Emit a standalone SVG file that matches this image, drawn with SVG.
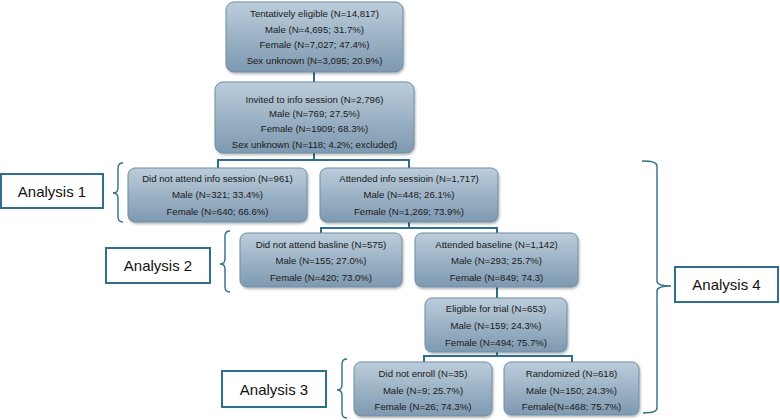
<svg xmlns="http://www.w3.org/2000/svg" width="780" height="420" viewBox="0 0 780 420">
<defs>
<linearGradient id="g" x1="0" y1="0" x2="0" y2="1">
<stop offset="0" stop-color="#bccddb"/>
<stop offset="1" stop-color="#7d99b0"/>
</linearGradient>
<filter id="sh" x="-5%" y="-5%" width="110%" height="120%">
<feDropShadow dx="1" dy="1.5" stdDeviation="1" flood-color="#000" flood-opacity="0.3"/>
</filter>
</defs>
<style>
.box{fill:url(#g);stroke:#6f8ea6;stroke-width:1;filter:url(#sh)}
.t{font-family:"Liberation Sans",Arial,sans-serif;font-size:9.6px;fill:#1a1a1a;text-anchor:middle}
.ab{fill:#fff;stroke:#2f6e8c;stroke-width:2}
.at{font-family:"Liberation Sans",Arial,sans-serif;font-size:15px;fill:#111;text-anchor:middle}
.c{fill:none;stroke:#2f6e8c;stroke-width:2}
.br{fill:none;stroke:#2f6e8c;stroke-width:1.4}
</style>
<g id="connectors">
<path class="c" d="M314,72 V82"/>
<path class="c" d="M314,153 V160 M218,160 H409 M218,159 V168 M409,159 V168"/>
<path class="c" d="M409,222 V228 M321,228 H497 M321,227 V233 M497,227 V233"/>
<path class="c" d="M497,287 V298"/>
<path class="c" d="M497,352 V356 M424,356 H572 M424,355 V362 M572,355 V362"/>
</g>
<g id="brackets">
<path class="br" d="M123,163 Q118,163 118,168 V188 Q118,193 113,193 Q118,193 118,198 V217 Q118,222 123,222"/>
<path class="br" d="M230,231 Q225,231 225,236 V259 Q225,264 220,264 Q225,264 225,269 V287 Q225,292 230,292"/>
<path class="br" d="M347,359 Q342,359 342,364 V385 Q342,390 337,390 Q342,390 342,395 V413 Q342,418 347,418"/>
<path class="br" d="M642,161 Q657,161 657,166 V281 Q657,286 671,286 Q657,286 657,291 V408 Q657,413 643,413"/>
</g>
<g id="n1">
<rect class="box" x="226" y="2" width="177" height="70" rx="8"/>
<text class="t" x="314.5" y="17">Tentatively eligible (N=14,817)</text>
<text class="t" x="314.5" y="33">Male (N=4,695; 31.7%)</text>
<text class="t" x="314.5" y="48">Female (N=7,027; 47.4%)</text>
<text class="t" x="314.5" y="64">Sex unknown (N=3,095; 20.9%)</text>
</g>
<g id="n2">
<rect class="box" x="215" y="82" width="199" height="71" rx="8"/>
<text class="t" x="314.5" y="103">Invited to info session (N=2,796)</text>
<text class="t" x="314.5" y="117">Male (N=769; 27.5%)</text>
<text class="t" x="314.5" y="132">Female (N=1909; 68.3%)</text>
<text class="t" x="314.5" y="148">Sex unknown (N=118; 4.2%; excluded)</text>
</g>
<g id="n3">
<rect class="box" x="128" y="168" width="179" height="54" rx="7"/>
<text class="t" x="217.5" y="182">Did not attend info session (N=961)</text>
<text class="t" x="217.5" y="198">Male (N=321; 33.4%)</text>
<text class="t" x="217.5" y="215">Female (N=640; 66.6%)</text>
</g>
<g id="n4">
<rect class="box" x="320" y="168" width="178" height="54" rx="7"/>
<text class="t" x="409" y="182">Attended info sessioin (N=1,717)</text>
<text class="t" x="409" y="198">Male (N=448; 26.1%)</text>
<text class="t" x="409" y="215">Female (N=1,269; 73.9%)</text>
</g>
<g id="n5">
<rect class="box" x="240" y="233" width="162" height="54" rx="7"/>
<text class="t" x="321" y="248">Did not attend basline (N=575)</text>
<text class="t" x="321" y="264">Male (N=155; 27.0%)</text>
<text class="t" x="321" y="281">Female (N=420; 73.0%)</text>
</g>
<g id="n6">
<rect class="box" x="415" y="233" width="163" height="54" rx="7"/>
<text class="t" x="496.5" y="248">Attended baseline (N=1,142)</text>
<text class="t" x="496.5" y="264">Male (N=293; 25.7%)</text>
<text class="t" x="496.5" y="281">Female (N=849; 74.3)</text>
</g>
<g id="n7">
<rect class="box" x="425" y="298" width="142" height="54" rx="7"/>
<text class="t" x="496" y="312">Eligible for trial (N=653)</text>
<text class="t" x="496" y="329">Male (N=159; 24.3%)</text>
<text class="t" x="496" y="346">Female (N=494; 75.7%)</text>
</g>
<g id="n8">
<rect class="box" x="354" y="362" width="138" height="54" rx="7"/>
<text class="t" x="423" y="377">Did not enroll (N=35)</text>
<text class="t" x="423" y="394">Male (N=9; 25.7%)</text>
<text class="t" x="423" y="410">Female (N=26; 74.3%)</text>
</g>
<g id="n9">
<rect class="box" x="504" y="362" width="135" height="53" rx="7"/>
<text class="t" x="571.5" y="377">Randomized (N=618)</text>
<text class="t" x="571.5" y="394">Male (N=150; 24.3%)</text>
<text class="t" x="571.5" y="410">Female(N=468; 75.7%)</text>
</g>
<g id="a1">
<rect class="ab" x="1" y="174" width="102" height="34"/>
<text class="at" x="52" y="196.5">Analysis 1</text>
</g>
<g id="a2">
<rect class="ab" x="106" y="248" width="104" height="35"/>
<text class="at" x="158" y="271">Analysis 2</text>
</g>
<g id="a3">
<rect class="ab" x="222" y="371" width="104" height="36"/>
<text class="at" x="274" y="394.5">Analysis 3</text>
</g>
<g id="a4">
<rect class="ab" x="675" y="267" width="103" height="35"/>
<text class="at" x="726.5" y="290">Analysis 4</text>
</g>
</svg>
